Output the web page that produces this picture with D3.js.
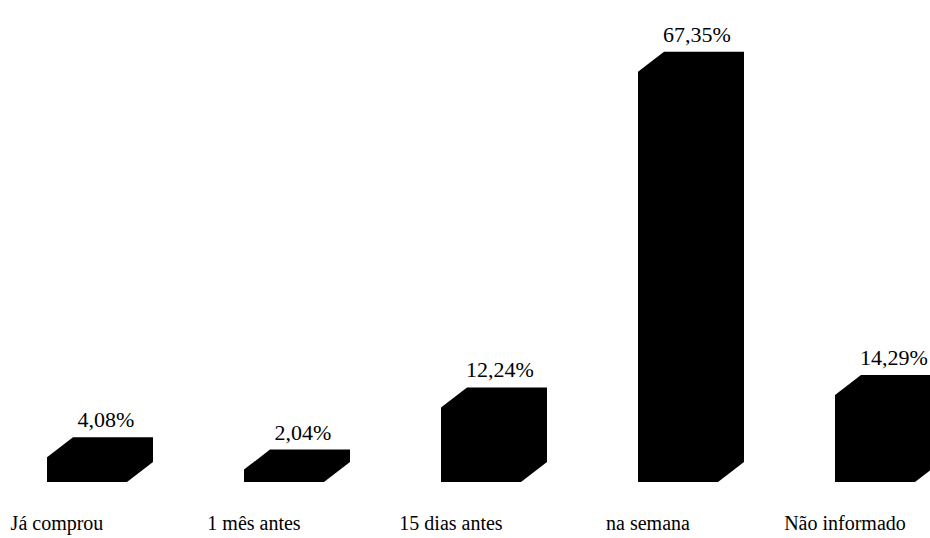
<!DOCTYPE html>
<html>
<head>
<meta charset="utf-8">
<script src="https://cdn.jsdelivr.net/npm/d3@7"></script>
</head>
<body style="margin:0">
<div id="chart-area"></div>
<script>
// data
var categories = ["Já comprou", "1 mês antes", "15 dias antes", "na semana", "Não informado"];
var values = [4.08, 2.04, 12.24, 67.35, 14.29];
var valueLabels = ["4,08%", "2,04%", "12,24%", "67,35%", "14,29%"];

var width = 930, height = 538;
var base = 482;          // bottom of the bars
var barW = 80;           // front face width
var depthX = 26, depthY = 20;

var svg = d3.select("#chart-area")
    .append("svg")
        .attr("width", width)
        .attr("height", height)
        .attr("font-family", "Liberation Serif");

var x_scale = d3.scaleBand()
    .domain(categories)
    .range([47, 47 + 197 * categories.length])
    .paddingInner(0)
    .paddingOuter(0);

var y_scale = d3.scaleLinear()
    .domain([0, 70])
    .range([base, base - 70 * 6.09]);

var data = categories.map(function(c, i){
    return { cat: c, value: values[i], label: valueLabels[i] };
});

// bars: front face with bevelled top-left and bottom-right corners
svg.selectAll("path.bar")
    .data(data)
    .enter()
    .append("path")
        .attr("class", "bar")
        .attr("fill", "#000")
        .attr("d", function(d){
            var x0 = x_scale(d.cat),
                yt = y_scale(d.value),
                p = d3.path();
            p.moveTo(x0, yt);
            p.lineTo(x0 + depthX, yt - depthY);
            p.lineTo(x0 + barW + depthX, yt - depthY);
            p.lineTo(x0 + barW + depthX, base - depthY);
            p.lineTo(x0 + barW, base);
            p.lineTo(x0, base);
            p.closePath();
            return p.toString();
        });

// value labels
svg.selectAll("text.value")
    .data(data)
    .enter()
    .append("text")
        .attr("class", "value")
        .attr("x", function(d){ return x_scale(d.cat) + 59; })
        .attr("y", function(d){ return y_scale(d.value) - depthY - 10; })
        .attr("text-anchor", "middle")
        .attr("font-family", "Liberation Serif")
        .attr("font-size", "22px")
        .text(function(d){ return d.label; });

// category labels
svg.selectAll("text.cat")
    .data(data)
    .enter()
    .append("text")
        .attr("class", "cat")
        .attr("x", function(d){ return x_scale(d.cat) + 10; })
        .attr("y", 530)
        .attr("text-anchor", "middle")
        .attr("font-family", "Liberation Serif")
        .attr("font-size", "20px")
        .text(function(d){ return d.cat; });
</script>
</body>
</html>
